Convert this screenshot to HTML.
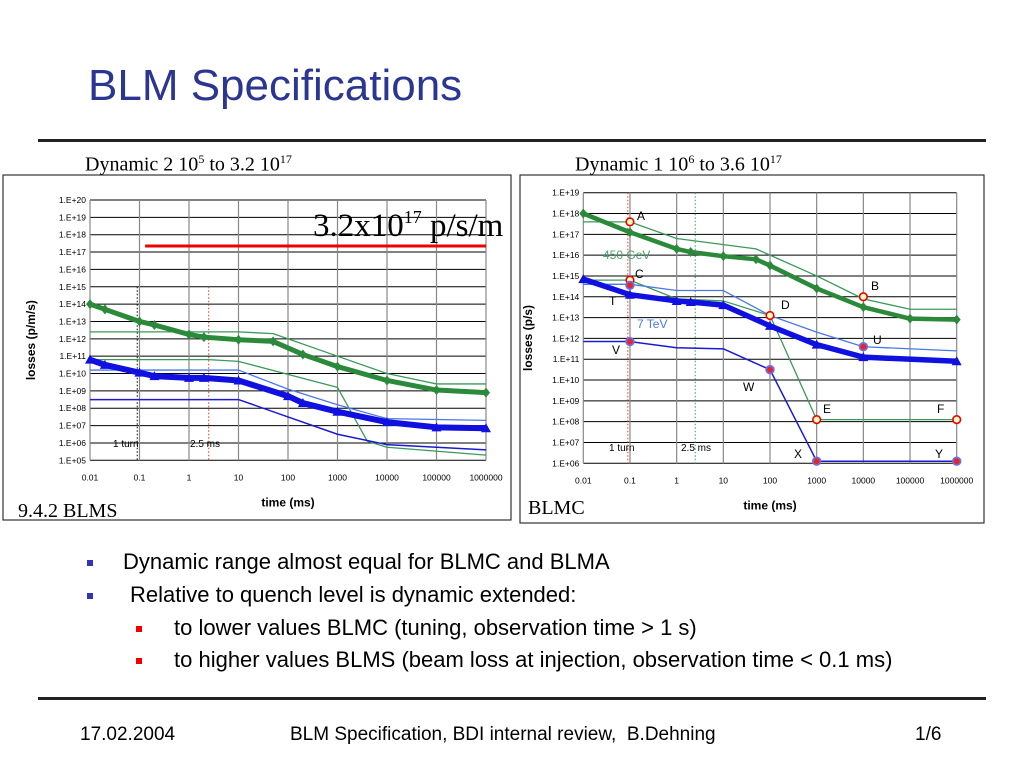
<!DOCTYPE html>
<html><head><meta charset="utf-8"><style>
body{margin:0;width:1024px;height:768px;background:#fff;position:relative;overflow:hidden;font-family:"Liberation Sans",sans-serif}
.abs{position:absolute;white-space:nowrap}
.times{font-family:"Liberation Serif",serif}
</style></head><body>
<div class="abs" style="left:88px;top:61px;font-size:44px;color:#2b3592">BLM Specifications</div>
<div class="abs" style="left:38px;top:139px;width:948px;height:3px;background:#222"></div>
<div class="abs times" style="left:85px;top:152px;font-size:20px">Dynamic 2 10<sup style="font-size:12px">5</sup> to 3.2 10<sup style="font-size:12px">17</sup></div>
<div class="abs times" style="left:575px;top:152px;font-size:20px">Dynamic 1 10<sup style="font-size:12px">6</sup> to 3.6 10<sup style="font-size:12px">17</sup></div>
<svg class="abs" style="left:0;top:0" width="1024" height="768" id="svg"></svg>
<div class="abs" style="left:87px;top:549px;font-size:22px"><span style="display:inline-block;width:6px;height:6px;background:#3333bb;vertical-align:middle;margin-right:30px"></span>Dynamic range almost equal for BLMC and BLMA</div>
<div class="abs" style="left:87px;top:582px;font-size:22px"><span style="display:inline-block;width:6px;height:6px;background:#3333bb;vertical-align:middle;margin-right:37px"></span>Relative to quench level is dynamic extended:</div>
<div class="abs" style="left:136px;top:615px;font-size:22px"><span style="display:inline-block;width:6px;height:6px;background:#e00;vertical-align:middle;margin-right:32px"></span>to lower values BLMC (tuning, observation time &gt; 1 s)</div>
<div class="abs" style="left:136px;top:647px;font-size:22px"><span style="display:inline-block;width:6px;height:6px;background:#e00;vertical-align:middle;margin-right:32px"></span>to higher values BLMS (beam loss at injection, observation time &lt; 0.1 ms)</div>
<div class="abs" style="left:38px;top:697px;width:948px;height:3px;background:#222"></div>
<div class="abs" style="left:80px;top:724px;font-size:19px">17.02.2004</div>
<div class="abs" style="left:290px;top:724px;font-size:19px">BLM Specification, BDI internal review,&nbsp; B.Dehning</div>
<div class="abs" style="left:915px;top:724px;font-size:19px">1/6</div>
<script>
// ---- Left chart data (log10 values) ----
const xTickLabels=["0.01","0.1","1","10","100","1000","10000","100000","1000000"];
const L_green_diamond_t=[0.01,0.02,0.1,0.2,1,2,10,50,200,1000,10000,100000,1e6];
const L_green_diamond_v=[14,13.7,13,12.8,12.25,12.1,11.95,11.85,11.1,10.4,9.6,9.05,8.9];
const L_green_upper_t=[0.01,10,50,1000,10000,100000,1e6];
const L_green_upper_v=[12.4,12.4,12.3,11,10,9.4,9.4];
const L_green_lower_t=[0.01,2.5,10,1000,4000,10000,1e6];
const L_green_lower_v=[10.8,10.8,10.7,9.2,6.1,5.75,5.3];
const L_blue_tri_t=[0.01,0.02,0.1,0.2,1,2,10,100,200,1000,10000,100000,1e6];
const L_blue_tri_v=[10.8,10.5,10.05,9.85,9.75,9.75,9.6,8.7,8.3,7.8,7.2,6.9,6.85];
const L_blue_light_t=[0.01,10,100,1000,10000,1e6];
const L_blue_light_v=[10.2,10.2,9.1,8.2,7.4,7.3];
const L_blue_dark_t=[0.01,10,100,1000,10000,1e6];
const L_blue_dark_v=[8.5,8.5,7.5,6.5,5.9,5.6];
const L_quench_t=[0.13,1e6];
const L_quench_v=[17.35,17.35];
// ---- Right chart data ----
const R_green_diamond_t=[0.01,0.1,1,2,10,50,100,1000,10000,100000,1e6];
const R_green_diamond_v=[18,17.1,16.3,16.15,15.95,15.8,15.5,14.4,13.5,12.95,12.9];
const R_green_upper_t=[0.01,0.1,1,50,100,1000,10000,100000,1e6];
const R_green_upper_v=[17.6,17.6,16.8,16.3,16,15,13.9,13.4,13.4];
const R_green_lower_t=[0.01,0.1,1,10,100,1000,1e6];
const R_green_lower_v=[14.8,14.8,13.9,13.8,13.1,8.1,8.1];
const R_blue_tri_t=[0.01,0.1,1,2,10,100,1000,10000,1e6];
const R_blue_tri_v=[14.85,14.1,13.8,13.75,13.6,12.6,11.7,11.1,10.9];
const R_blue_light_t=[0.01,0.1,1,10,100,1000,10000,1e6];
const R_blue_light_v=[14.6,14.6,14.3,14.3,13.1,12.3,11.6,11.4];
const R_blue_dark_t=[0.01,0.1,1,10,100,1000,1e6];
const R_blue_dark_v=[11.85,11.85,11.55,11.5,10.5,6.1,6.1];
const R_red_pt_names=["A","C","B","D","E","F"];
const R_red_pt_t=[0.1,0.1,10000,100,1000,1e6];
const R_red_pt_v=[17.6,14.8,14,13.1,8.1,8.1];
const R_blue_pt_names=["T","V","U","W","X","Y"];
const R_blue_pt_t=[0.1,0.1,10000,100,1000,1e6];
const R_blue_pt_v=[14.55,11.85,11.6,10.5,6.1,6.1];

const NS="http://www.w3.org/2000/svg";
const svg=document.getElementById('svg');
function mk(tag,at,parent){const e=document.createElementNS(NS,tag);for(const k in at)e.setAttribute(k,at[k]);(parent||svg).appendChild(e);return e;}
function makeChart(c){
  const g=mk('g',{});
  
  
  const X=t=>c.x0+(Math.log10(t)+2)*(c.x1-c.x0)/8;
  const Y=v=>c.y1-(v-c.vmin)*(c.y1-c.y0)/(c.vmax-c.vmin);
  c.X=X;c.Y=Y;
  const fr=mk('rect',{x:c.fx,y:c.fy,width:c.fw,height:c.fh,fill:'none',stroke:'#333','stroke-width':1.2},g);
  
  
  for(let v=c.vmin;v<=c.vmax;v++){
    const l=mk('line',{x1:c.x0,x2:c.x1,y1:Y(v),y2:Y(v),stroke:'#000','stroke-width':1},g);
    
    
    const t=mk('text',{x:c.x0-4,y:Y(v)+3,'font-size':8.5,'text-anchor':'end'},g);
    t.textContent='1.E+'+String(v).padStart(2,'0');
    
    
  }
  xTickLabels.forEach((lab,i)=>{
    const x=X(parseFloat(lab));
    const l=mk('line',{x1:x,x2:x,y1:c.y0,y2:c.y1,stroke:'#888','stroke-width':1.2},g);
    
    
    const t=mk('text',{x:x,y:c.y1+20,'font-size':8.5,'text-anchor':'middle'},g);
    t.textContent=lab;
    
    
  });
  const xt=mk('text',{x:(c.x0+c.x1)/2,y:c.y1+46,'font-size':12,'font-weight':'bold','text-anchor':'middle'},g);
  xt.textContent='time (ms)';
  
  
  const yt=mk('text',{x:0,y:0,'font-size':12,'font-weight':'bold','text-anchor':'middle',transform:`translate(${c.ytx},${(c.y0+c.y1)/2+10}) rotate(-90)`},g);
  yt.textContent=c.ytitle;
  
  
  return g;
}
function line(c,g,ts,vs,color,w,name,dash){
  const p=mk('polyline',{points:ts.map((t,i)=>c.X(t)+','+c.Y(vs[i])).join(' '),fill:'none',stroke:color,'stroke-width':w,'stroke-linejoin':'round'},g);
  if(dash)p.setAttribute('stroke-dasharray',dash);
  
  
}
function markers(c,g,ts,vs,color,shape,name){
  ts.forEach((t,i)=>{
    const x=c.X(t),y=c.Y(vs[i]);
    const pts=shape==='d'?`${x},${y-5} ${x+4},${y} ${x},${y+5} ${x-4},${y}`:`${x},${y-5} ${x+5},${y+4} ${x-5},${y+4}`;
    const m=mk('polygon',{points:pts,fill:color},g);
    
    
  });
}
function label(g,x,y,txt,color,size,name){
  const t=mk('text',{x:x,y:y,'font-size':size||11,fill:color||'#000'},g);
  t.textContent=txt;
  
  
}
// Left chart
const cl={name:'blms-chart',x0:90,x1:486,y0:200,y1:460.3,vmin:5,vmax:20,fx:3,fy:175,fw:508,fh:345,ytx:35,ytitle:'losses (p/m/s)'};
const gl=makeChart(cl);
line(cl,gl,[0.09,0.09],[15,5],'#000',1,'one-turn-marker','1.5,2');
line(cl,gl,[2.5,2.5],[15,5],'#e33',1,'2-5ms-marker','1.5,2');
line(cl,gl,L_quench_t,L_quench_v,'#e00',3,'quench-level-line');
line(cl,gl,L_green_upper_t,L_green_upper_v,'#3a9a5a',1.3,'green-upper-line');
line(cl,gl,L_green_lower_t,L_green_lower_v,'#3a9a5a',1.3,'green-lower-line');
line(cl,gl,L_blue_light_t,L_blue_light_v,'#4a78e8',1.3,'blue-light-line');
line(cl,gl,L_blue_dark_t,L_blue_dark_v,'#1a1ad0',1.5,'blue-dark-line');
line(cl,gl,L_green_diamond_t,L_green_diamond_v,'#2a8a3a',5,'green-diamond-series');
markers(cl,gl,L_green_diamond_t,L_green_diamond_v,'#2a8a3a','d','green-diamond');
line(cl,gl,L_blue_tri_t,L_blue_tri_v,'#1010e0',6,'blue-triangle-series');
markers(cl,gl,L_blue_tri_t,L_blue_tri_v,'#1010e0','t','blue-triangle');
label(gl,113,447,'1 turn','#000',10,'one-turn-label');
label(gl,190,447,'2.5 ms','#000',10,'2-5ms-label');
const big=mk('text',{x:313,y:236,'font-size':33,'font-family':'Liberation Serif, serif'},gl);
big.innerHTML='3.2x10<tspan font-size="18" dy="-13">17</tspan><tspan dy="13"> p/s/m</tspan>';


const bl=mk('text',{x:18,y:517,'font-size':20,'font-family':'Liberation Serif, serif'},gl);
bl.textContent='9.4.2 BLMS';


// Right chart
const cr={name:'blmc-chart',x0:583.3,x1:956.7,y0:192.7,y1:463.3,vmin:6,vmax:19,fx:520,fy:175,fw:464,fh:348,ytx:532,ytitle:'losses (p/s)'};
const gr=makeChart(cr);
line(cr,gr,[0.09,0.09],[19,6],'#e33',1,'one-turn-marker','1.5,2');
line(cr,gr,[2.5,2.5],[19,6],'#3a9a5a',1,'2-5ms-marker','1.5,2');
line(cr,gr,R_green_upper_t,R_green_upper_v,'#3a9a5a',1.3,'green-upper-line');
line(cr,gr,R_green_lower_t,R_green_lower_v,'#3a9a5a',1.3,'green-lower-line');
line(cr,gr,R_blue_light_t,R_blue_light_v,'#4a78e8',1.3,'blue-light-line');
line(cr,gr,R_blue_dark_t,R_blue_dark_v,'#1a1ad0',1.5,'blue-dark-line');
line(cr,gr,R_green_diamond_t,R_green_diamond_v,'#2a8a3a',4.5,'green-diamond-series');
markers(cr,gr,R_green_diamond_t,R_green_diamond_v,'#2a8a3a','d','green-diamond');
line(cr,gr,R_blue_tri_t,R_blue_tri_v,'#1010e0',5.5,'blue-triangle-series');
markers(cr,gr,R_blue_tri_t,R_blue_tri_v,'#1010e0','t','blue-triangle');
R_red_pt_t.forEach((t,i)=>{
  const c=mk('circle',{cx:cr.X(t),cy:cr.Y(R_red_pt_v[i]),r:3.8,fill:'#ffffc0',stroke:'#e00','stroke-width':1.6},gr);
  
  
});
R_blue_pt_t.forEach((t,i)=>{
  const c=mk('circle',{cx:cr.X(t),cy:cr.Y(R_blue_pt_v[i]),r:3.8,fill:'#e22',stroke:'#6a70e0','stroke-width':1.8},gr);
  
  
});
const lbl=[["A",637,220],["C",635,278],["B",871,290],["D",781,309],["E",823,413],["F",937,413],["T",609,305],["V",612,354],["U",873,344],["W",743,391],["X",794,458],["Y",935,458]];
lbl.forEach(l=>label(gr,l[1],l[2],l[0],'#000',12,'point-label-'+l[0]));
label(gr,603,259,'450 GeV','#4aa06a',12,'450gev-label');
label(gr,637,328,'7 TeV','#4a78e8',12,'7tev-label');
label(gr,609,451,'1 turn','#000',10,'one-turn-label');
label(gr,681,451,'2.5 ms','#000',10,'2-5ms-label');
const br=mk('text',{x:528,y:514,'font-size':20,'font-family':'Liberation Serif, serif'},gr);
br.textContent='BLMC';


</script>
</body></html>
